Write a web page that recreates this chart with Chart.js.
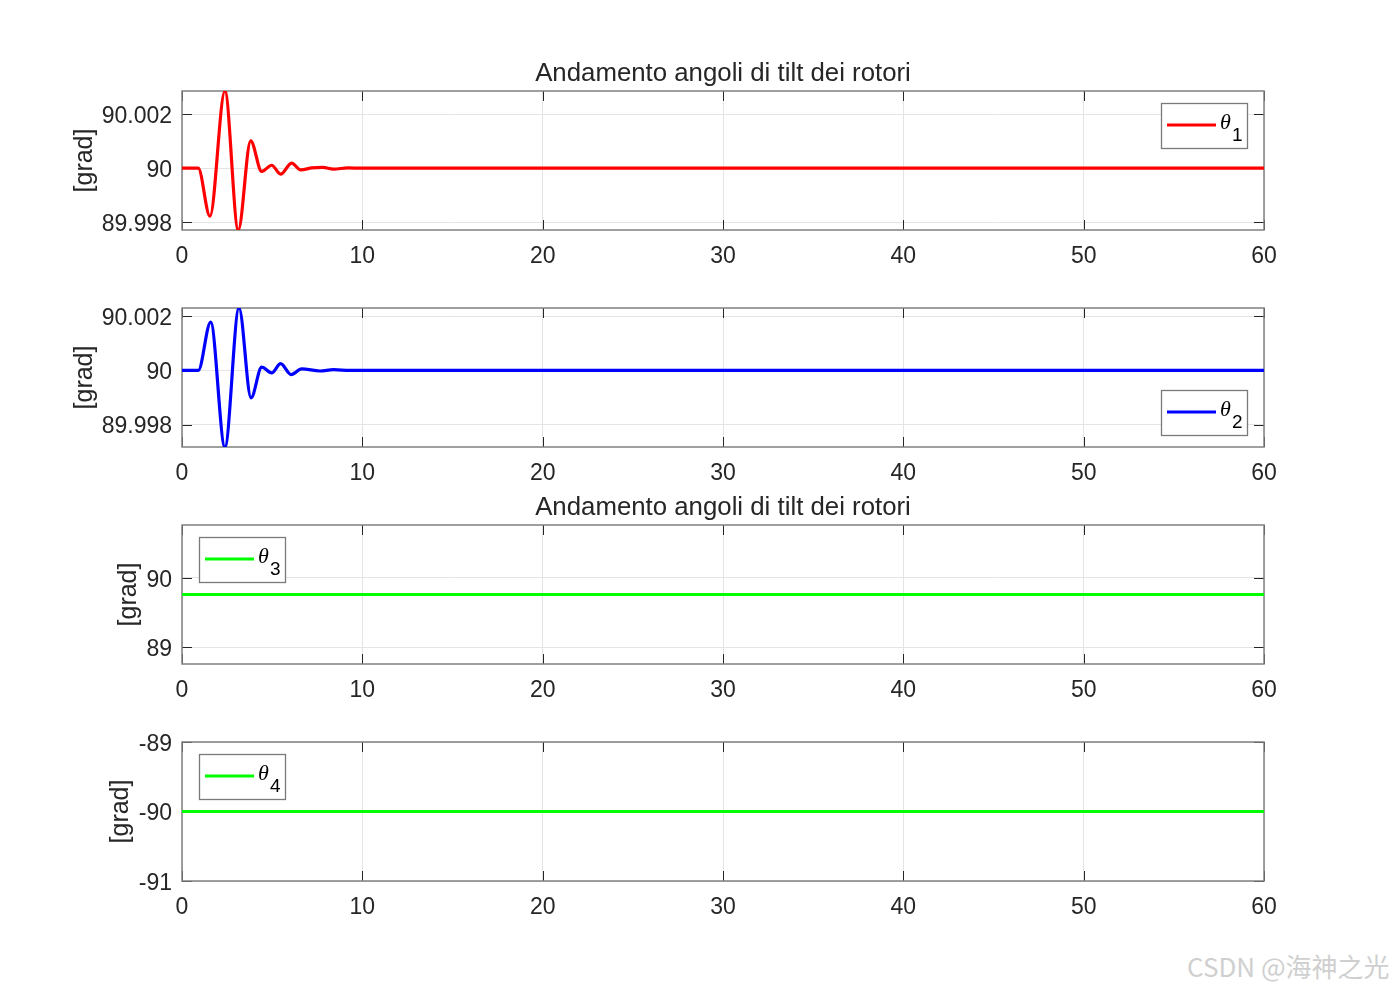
<!DOCTYPE html>
<html>
<head>
<meta charset="utf-8">
<script src="https://cdn.jsdelivr.net/npm/chart.js@4.4.1/dist/chart.umd.min.js"></script>
<style>
  body { margin: 0; background: #fff; }
  #fig { position: relative; width: 1397px; height: 991px; overflow: hidden; background: #fff;
         font-family: "Liberation Sans", Arial, sans-serif; }
  #fig canvas { position: absolute; left: 0; }
  .title { position: absolute; left: 0; width: 1446px; text-align: center; font-size: 25.8px;
           line-height: 30px; color: #262626; }
  .mark { position: absolute; left: 1187px; top: 949px; font-family: "Noto Sans CJK SC", sans-serif;
          font-size: 26px; line-height: 34px; color: #cfcfcf; white-space: nowrap; }
</style>
</head>
<body>
<div id="fig">
  <canvas id="ax1" width="1397" height="249" style="top:31px"></canvas>
  <canvas id="ax2" width="1397" height="249" style="top:248px"></canvas>
  <canvas id="ax3" width="1397" height="249" style="top:465px"></canvas>
  <canvas id="ax4" width="1397" height="249" style="top:682px"></canvas>
  <div class="title" id="t1" style="top:57px"></div>
  <div class="title" id="t3" style="top:491px"></div>
  <div class="mark">CSDN @海神之光</div>
</div>
<script>
const titleText = 'Andamento angoli di tilt dei rotori';
const yTitle = '[grad]';

// time [s] / angle [deg]
const timeTheta1 = [0, 0.9, 1.55, 2.38, 3.12, 3.81, 4.42, 4.97, 5.47, 6.08, 6.58, 7.2, 7.8, 8.4, 9.2, 10, 60];
const theta1 = [90, 90, 89.99823, 90.00285, 89.99772, 90.00101, 89.99988, 90.00011, 89.99978, 90.00019,
                89.99994, 90.00001, 90.00003, 89.99997, 90.00001, 90, 90];

const timeTheta2 = [0, 0.9, 1.59, 2.38, 3.16, 3.83, 4.42, 4.97, 5.47, 6.05, 6.64, 7.65, 8.4, 9.3, 10, 60];
const theta2 = [90, 90, 90.00179, 89.99717, 90.00231, 89.99899, 90.00012, 89.99991, 90.00025, 89.99985,
                90.00006, 89.99998, 90.00003, 90, 90, 90];

const timeTheta3 = [0, 60];
const theta3 = [89.761, 89.761];

const timeTheta4 = [0, 60];
const theta4 = [-90, -90];

const xTicks = [0, 10, 20, 30, 40, 50, 60];
const yTicks1 = [89.998, 90, 90.002];
const yLabels1 = ['89.998', '90', '90.002'];
const yTicks2 = [89.998, 90, 90.002];
const yLabels2 = ['89.998', '90', '90.002'];
const yTicks3 = [89, 90];
const yLabels3 = ['89', '90'];
const yTicks4 = [-91, -90, -89];
const yLabels4 = ['-91', '-90', '-89'];
const yLimits3 = [88.761, 90.761];
const yLimits4 = [-91, -89];

document.getElementById('t1').textContent = titleText;
document.getElementById('t3').textContent = titleText;

Chart.defaults.font.family = '"Liberation Sans", Arial, Helvetica, sans-serif';
Chart.defaults.color = '#262626';

// box, inward ticks and the little legend, matlab style
const frame = {
  id: 'frame',
  beforeDatasetsDraw(chart) {
    const { ctx, chartArea: a, scales: { x, y } } = chart;
    ctx.save();
    ctx.strokeStyle = '#262626';
    ctx.lineWidth = 1;
    ctx.beginPath();
    x.ticks.forEach(t => {
      const px = Math.round(x.getPixelForValue(t.value)) + 0.5;
      ctx.moveTo(px, a.top); ctx.lineTo(px, a.top + 10);
      ctx.moveTo(px, a.bottom); ctx.lineTo(px, a.bottom - 10);
    });
    y.ticks.forEach(t => {
      const py = Math.round(y.getPixelForValue(t.value)) + 0.5;
      ctx.moveTo(a.left, py); ctx.lineTo(a.left + 10, py);
      ctx.moveTo(a.right, py); ctx.lineTo(a.right - 10, py);
    });
    ctx.stroke();
    ctx.strokeStyle = '#808080';
    ctx.lineWidth = 1.5;
    ctx.strokeRect(a.left, a.top, a.width, a.height);
    ctx.restore();
  },
  afterDatasetsDraw(chart, args, opts) {
    if (!opts.corner) return;
    const { ctx, chartArea: a } = chart;
    const ds = chart.data.datasets[0];
    const w = 86, h = 45;
    const bx = opts.corner === 'tl' ? a.left + 17 : a.right - 17 - w;
    const by = opts.corner === 'br' ? a.bottom - 12 - h : a.top + 12;
    ctx.save();
    ctx.fillStyle = '#fff';
    ctx.fillRect(bx, by, w, h);
    ctx.strokeStyle = '#7a7a7a';
    ctx.lineWidth = 1.3;
    ctx.strokeRect(bx + 0.5, by + 0.5, w, h);
    ctx.strokeStyle = ds.borderColor;
    ctx.lineWidth = 3;
    ctx.beginPath();
    ctx.moveTo(bx + 6, by + 22);
    ctx.lineTo(bx + 55, by + 22);
    ctx.stroke();
    ctx.fillStyle = '#000';
    ctx.textBaseline = 'alphabetic';
    ctx.font = 'italic 22px "Liberation Serif", "Times New Roman", serif';
    ctx.fillText(ds.label.slice(0, 1), bx + 59, by + 26);
    ctx.font = '19px "Liberation Sans", Arial, sans-serif';
    ctx.fillText(ds.label.slice(1), bx + 71, by + 38);
    ctx.restore();
  }
};

function makeAxes(id, times, values, color, label, yTicks, yLabels, yLim, padLeft, corner) {
  const pts = times.map((t, i) => ({ x: t, y: values[i] }));
  return new Chart(document.getElementById(id), {
    type: 'line',
    data: {
      datasets: [{
        label,
        data: pts,
        borderColor: color,
        borderWidth: 3.2,
        pointRadius: 0,
        fill: false,
        cubicInterpolationMode: 'monotone'
      }]
    },
    options: {
      responsive: false,
      animation: false,
      devicePixelRatio: 1,
      layout: { padding: { left: padLeft, right: 133, top: 60, bottom: 0 } },
      plugins: {
        legend: { display: false },
        tooltip: { enabled: false },
        frame: { corner }
      },
      scales: {
        x: {
          type: 'linear',
          min: xTicks[0],
          max: xTicks[xTicks.length - 1],
          afterBuildTicks: s => { s.ticks = xTicks.map(v => ({ value: v })); },
          afterFit: s => { s.height = 50; },
          grid: { color: '#e4e4e4', drawTicks: false },
          border: { display: false },
          ticks: { font: { size: 23 }, padding: 13, maxRotation: 0, callback: v => String(v) }
        },
        y: {
          min: yLim[0],
          max: yLim[1],
          afterBuildTicks: s => { s.ticks = yTicks.map(v => ({ value: v })); },
          afterFit: s => { s.width = 182 - padLeft; },
          grid: { color: '#e4e4e4', drawTicks: false },
          border: { display: false },
          ticks: { font: { size: 23 }, padding: 10, labelOffset: 2.5, callback: (v, i) => yLabels[i] },
          title: { display: true, text: yTitle, font: { size: 25 }, color: '#262626', padding: { top: 4, bottom: 4 } }
        }
      }
    },
    plugins: [frame]
  });
}

const lim1 = [Math.min(...theta1), Math.max(...theta1)];
const lim2 = [Math.min(...theta2), Math.max(...theta2)];

makeAxes('ax1', timeTheta1, theta1, '#ff0000', 'θ1', yTicks1, yLabels1, lim1, 66, 'tr');
makeAxes('ax2', timeTheta2, theta2, '#0000ff', 'θ2', yTicks2, yLabels2, lim2, 66, 'br');
makeAxes('ax3', timeTheta3, theta3, '#00ff00', 'θ3', yTicks3, yLabels3, yLimits3, 110, 'tl');
makeAxes('ax4', timeTheta4, theta4, '#00ff00', 'θ4', yTicks4, yLabels4, yLimits4, 102, 'tl');
</script>
</body>
</html>
